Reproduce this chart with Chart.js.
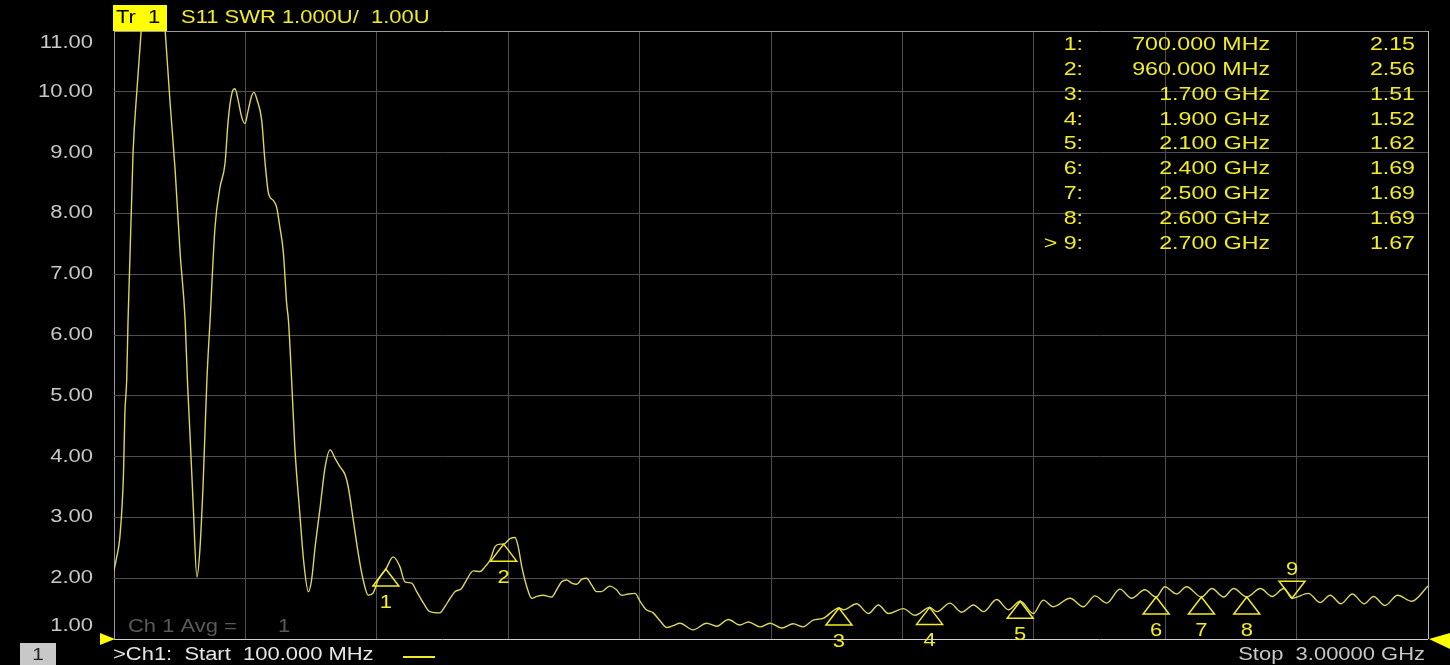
<!DOCTYPE html>
<html>
<head>
<meta charset="utf-8">
<title>S11 SWR</title>
<script src="https://cdn.jsdelivr.net/npm/chart.js@4.4.1/dist/chart.umd.min.js"></script>
<style>
  html, body { margin: 0; padding: 0; background: #000; overflow: hidden; }
  .chart-container { position: relative; width: 1450px; height: 665px; }
</style>
</head>
<body>
<div class="chart-container"><canvas id="swrChart"></canvas></div>
<script>
// sweep points (frequency in MHz, SWR)
const freqMHz = [
  100, 106, 113, 121, 124, 128, 131, 142, 151, 160,
  171, 186, 202, 213, 224, 235, 246, 257, 262, 268,
  275, 283, 290, 297, 305, 312, 323, 334, 345, 352,
  360, 367, 374, 382, 389, 396, 404, 409, 416, 426,
  433, 441, 452, 459, 466, 474, 481, 485, 492, 499,
  510, 519, 529, 536, 544, 555, 566, 577, 588, 599,
  610, 617, 628, 639, 650, 661, 672, 683,
  700, 716, 731, 742, 757, 768, 783, 797, 819, 830,
  842, 853, 867, 878, 893, 908, 919, 930, 941, 952,
  960, 974, 985, 992, 1000, 1011, 1022, 1033, 1047, 1066,
  1077, 1088, 1099, 1110, 1121, 1132, 1143, 1154, 1165, 1176,
  1194, 1209, 1220, 1235, 1250, 1261, 1275, 1290, 1305, 1320,
  1334, 1349, 1378, 1408, 1430, 1456, 1481, 1500, 1526, 1548,
  1574, 1599, 1621, 1643, 1665,
  1700, 1710, 1739, 1765, 1787, 1809, 1842, 1868, 1900, 1916,
  1945, 1971, 1997, 2019, 2048, 2074, 2100, 2129, 2151, 2173,
  2210, 2239, 2265, 2291, 2320, 2346, 2375, 2400, 2419, 2445,
  2467, 2500, 2523, 2549, 2571, 2600, 2630, 2656, 2682, 2700,
  2736, 2762, 2784, 2808, 2833, 2859, 2880, 2905, 2933, 2964,
  3000
];
const swr = [
  2.13, 2.35, 2.68, 3.73, 4.71, 5.26, 6.24, 8.99, 10.07, 11.0,
  12.2, 13.0, 12.2, 11.0, 9.8, 8.7, 7.34, 6.24, 5.26, 4.32,
  3.17, 2.02, 2.52, 3.61, 5.26, 6.24, 7.78, 8.43, 8.82, 9.53,
  9.97, 10.05, 9.86, 9.58, 9.48, 9.69, 9.94, 9.99, 9.86, 9.53,
  8.87, 8.33, 8.21, 8.10, 7.78, 7.34, 6.52, 6.24, 5.26, 4.16,
  3.07, 2.25, 1.78, 1.97, 2.52, 3.17, 3.83, 4.11, 3.97, 3.83,
  3.70, 3.50, 2.96, 2.41, 1.97, 1.72, 1.76, 1.97,
  2.15, 2.35, 2.19, 1.94, 1.92, 1.78, 1.59, 1.45, 1.43, 1.53,
  1.67, 1.78, 1.83, 1.97, 2.12, 2.11, 2.19, 2.30, 2.52, 2.56,
  2.56, 2.65, 2.67, 2.52, 2.19, 1.86, 1.67, 1.70, 1.72, 1.69,
  1.81, 1.94, 1.97, 1.92, 1.90, 1.98, 2.00, 1.89, 1.78, 1.78,
  1.87, 1.81, 1.72, 1.74, 1.75, 1.62, 1.48, 1.43, 1.30, 1.19,
  1.22, 1.26, 1.15, 1.26, 1.21, 1.32, 1.23, 1.28, 1.20, 1.26,
  1.18, 1.25, 1.20, 1.31, 1.34,
  1.51, 1.48, 1.58, 1.42, 1.56, 1.42, 1.50, 1.39, 1.52, 1.45,
  1.59, 1.44, 1.56, 1.45, 1.65, 1.48, 1.62, 1.42, 1.64, 1.53,
  1.67, 1.53, 1.71, 1.59, 1.82, 1.67, 1.81, 1.69, 1.86, 1.74,
  1.86, 1.69, 1.83, 1.69, 1.83, 1.69, 1.83, 1.70, 1.83, 1.67,
  1.75, 1.60, 1.72, 1.58, 1.74, 1.58, 1.70, 1.55, 1.72, 1.62,
  1.87
];

const xTicks = [100, 390, 680, 970, 1260, 1550, 1840, 2130, 2420, 2710, 3000];
const yTicks = [1, 2, 3, 4, 5, 6, 7, 8, 9, 10, 11];

const markerFreqs = [700, 960, 1700, 1900, 2100, 2400, 2500, 2600, 2700];
const markerValues = [2.15, 2.56, 1.51, 1.52, 1.62, 1.69, 1.69, 1.69, 1.67];
const markerFreqLabels = ["700.000 MHz", "960.000 MHz", "1.700 GHz", "1.900 GHz", "2.100 GHz",
  "2.400 GHz", "2.500 GHz", "2.600 GHz", "2.700 GHz"];
const activeMarker = 9;

const traceName = "Tr  1";
const titleText = "S11 SWR 1.000U/  1.00U";
const startText = ">Ch1:  Start  100.000 MHz";
const stopText = "Stop  3.00000 GHz";

const YELLOW = "#f2ec26";
const TRACE = "#dcd65c";
const SX = 1.22; // analyser font is wider than Arial

function stretchText(ctx, text, x, y, size, color, align) {
  ctx.save();
  ctx.font = size + "px 'Liberation Sans', Arial, sans-serif";
  ctx.fillStyle = color;
  ctx.textBaseline = "middle";
  ctx.textAlign = align || "left";
  ctx.translate(x, y);
  ctx.scale(SX, 1);
  ctx.fillText(text, 0, 0);
  ctx.restore();
}

function triangle(ctx, pts, fill, stroke) {
  ctx.beginPath();
  ctx.moveTo(pts[0], pts[1]);
  ctx.lineTo(pts[2], pts[3]);
  ctx.lineTo(pts[4], pts[5]);
  ctx.closePath();
  if (fill) { ctx.fillStyle = fill; ctx.fill(); }
  if (stroke) { ctx.strokeStyle = stroke; ctx.lineWidth = 1.5; ctx.stroke(); }
}

const vnaOverlay = {
  id: "vnaOverlay",
  afterDraw(chart) {
    const { ctx, chartArea: area, scales: { x, y } } = chart;

    // y labels, end ones pulled inside like on the analyser
    yTicks.forEach((v) => {
      let py = y.getPixelForValue(v);
      if (v === 11) py += 12;
      if (v === 1) py -= 13;
      stretchText(ctx, v.toFixed(2), 93, py, 18, "#c8c8c8", "right");
    });

    // header
    ctx.fillStyle = "#ffff00";
    ctx.fillRect(113, 5, 54, 26);
    stretchText(ctx, traceName, 116, 18, 18, "#000", "left");
    stretchText(ctx, titleText, 181, 18, 18, YELLOW, "left");

    // marker readout
    markerFreqs.forEach((f, i) => {
      const rowY = 45 + i * 24.8;
      const idx = (i + 1 === activeMarker ? "> " : "") + (i + 1) + ":";
      stretchText(ctx, idx, 1083, rowY, 19, YELLOW, "right");
      stretchText(ctx, markerFreqLabels[i], 1270, rowY, 19, YELLOW, "right");
      stretchText(ctx, markerValues[i].toFixed(2), 1415, rowY, 19, YELLOW, "right");
    });

    // marker symbols on the trace
    markerFreqs.forEach((f, i) => {
      const px = x.getPixelForValue(f);
      const py = y.getPixelForValue(markerValues[i]);
      if (i + 1 === activeMarker) {
        triangle(ctx, [px, py, px - 13, py - 17, px + 13, py - 17], null, YELLOW);
        stretchText(ctx, String(i + 1), px, py - 28, 18, YELLOW, "center");
      } else {
        triangle(ctx, [px, py, px - 13, py + 17, px + 13, py + 17], null, YELLOW);
        stretchText(ctx, String(i + 1), px, py + 34, 18, YELLOW, "center");
      }
    });

    // averaging note
    stretchText(ctx, "Ch 1 Avg =", 128, 627, 18, "#5a5a5a", "left");
    stretchText(ctx, "1", 278, 627, 18, "#5a5a5a", "left");

    // reference position arrows
    const refY = y.getPixelForValue(1);
    triangle(ctx, [100, refY - 6, area.left + 1, refY, 100, refY + 6], "#ffff00");
    triangle(ctx, [1450, refY - 6, area.right + 1, refY, 1450, refY + 10], "#ffff00");

    // footer
    ctx.fillStyle = "#c8c8c8";
    ctx.fillRect(20, 643, 36, 22);
    stretchText(ctx, "1", 38, 655, 17, "#222", "center");
    stretchText(ctx, startText, 113, 655, 18, "#e6e6e6", "left");
    ctx.strokeStyle = YELLOW;
    ctx.lineWidth = 2;
    ctx.beginPath();
    ctx.moveTo(403, 657);
    ctx.lineTo(435, 657);
    ctx.stroke();
    stretchText(ctx, stopText, 1425, 655, 18, "#c8c8c8", "right");
  }
};

const canvas = document.getElementById("swrChart");

new Chart(canvas, {
  type: "line",
  data: {
    datasets: [
      {
        data: freqMHz.map((f, i) => ({ x: f, y: swr[i] })),
        borderColor: TRACE,
        borderWidth: 1.4,
        pointRadius: 0,
        cubicInterpolationMode: "monotone",
        fill: false,
      },
    ],
  },
  options: {
    responsive: true,
    maintainAspectRatio: false,
    animation: false,
    layout: { padding: { left: 114, right: 22, top: 31, bottom: 26 } },
    plugins: {
      legend: { display: false },
      tooltip: { enabled: false },
    },
    scales: {
      x: {
        type: "linear",
        min: 100,
        max: 3000,
        afterBuildTicks: (s) => { s.ticks = xTicks.map((v) => ({ value: v })); },
        afterFit: (s) => { s.height = 0; },
        ticks: { display: false },
        border: { display: false },
        grid: {
          drawTicks: false,
          color: (c) => (c.tick.value === 100 ? "#9a9a9a" : c.tick.value === 3000 ? "#b8b8b8" : "#4e4e4e"),
        },
      },
      y: {
        min: 1,
        max: 11,
        afterBuildTicks: (s) => { s.ticks = yTicks.map((v) => ({ value: v })); },
        afterFit: (s) => { s.width = 0; },
        ticks: { display: false },
        border: { display: false },
        grid: {
          drawTicks: false,
          color: (c) => (c.tick.value === 1 ? "#cfcfcf" : c.tick.value === 11 ? "#9a9a9a" : "#4e4e4e"),
        },
      },
    },
  },
  plugins: [vnaOverlay],
});
</script>
</body>
</html>
